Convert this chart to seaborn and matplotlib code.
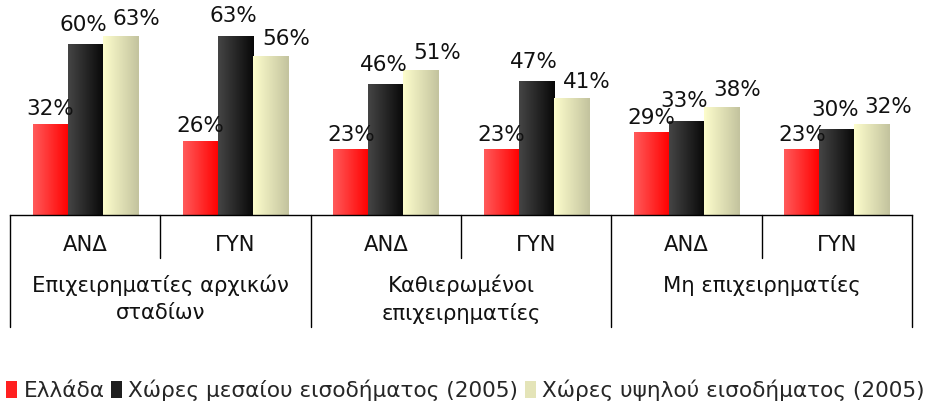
import numpy as np
import pandas as pd
import matplotlib
matplotlib.use("Agg")
import matplotlib.pyplot as plt
import seaborn as sns
from matplotlib.colors import LinearSegmentedColormap
from matplotlib.patches import Patch

# data
groups = ["Επιχειρηματίες αρχικών\nσταδίων", "Καθιερωμένοι\nεπιχειρηματίες", "Μη επιχειρηματίες"]
genders = ["ΑΝΔ", "ΓΥΝ"]
series = ["Ελλάδα", "Χώρες μεσαίου εισοδήματος (2005)", "Χώρες υψηλού εισοδήματος (2005)"]
greece = [32, 26, 23, 23, 29, 23]
middle_income = [60, 63, 46, 47, 33, 30]
high_income = [63, 56, 51, 41, 38, 32]

# slot labels: one per (group, gender)
slots = [f"{g}|{s}" for g in range(len(groups)) for s in genders]

rows = []
for name, vals in zip(series, [greece, middle_income, high_income]):
    for slot, v in zip(slots, vals):
        rows.append({"slot": slot, "series": name, "value": v})
df = pd.DataFrame(rows)

# left -> right colour of each gradient bar
grad_colours = [("#ff5a5a", "#ff0000"), ("#454545", "#080808"), ("#fdfdcc", "#c3c39e")]
legend_colours = ["#ff2020", "#1e1e1e", "#e4e4b8"]
label_dx = [0, -2, 16]   # label nudges, px
label_dy = [5, 10, 7]

sns.set_style("white")
plt.rcParams["font.family"] = ["DejaVu Sans"]

fig = plt.figure(figsize=(9.31, 4.03), dpi=100)
ax = fig.add_axes([10 / 931, 1 - 215 / 403, 902 / 931, 215 / 403])

sns.barplot(data=df, x="slot", y="value", hue="series", order=slots,
            hue_order=series, width=0.7, palette=legend_colours,
            saturation=1, ax=ax, legend=False)

ax.set_xlim(-0.5, len(slots) - 0.5)
ax.set_ylim(0, 215 / 2.835)
ax.set_autoscale_on(False)

# gradient fill over each bar + value label
for i, cont in enumerate(ax.containers):
    cmap = LinearSegmentedColormap.from_list(f"g{i}", grad_colours[i])
    grad = np.linspace(0, 1, 64).reshape(1, -1)
    for bar in cont:
        x0, w, h = bar.get_x(), bar.get_width(), bar.get_height()
        ax.imshow(grad, cmap=cmap, extent=[x0, x0 + w, 0, h], aspect="auto",
                  zorder=bar.get_zorder() + 0.1, interpolation="bilinear")
        ax.annotate(f"{h:.0f}%", (x0 + w / 2, h), xytext=(label_dx[i] * 0.72, label_dy[i] * 0.72),
                    textcoords="offset points", ha="center", va="bottom",
                    fontsize=15.5, color="#111111")

ax.set_xlabel("")
ax.set_ylabel("")
ax.set_xticks([])
ax.set_yticks([])
ax.spines[["top", "right", "left"]].set_visible(False)
ax.spines["bottom"].set_color("black")
ax.spines["bottom"].set_linewidth(1.0)

# table-style category axis underneath
trans = ax.get_xaxis_transform()
short_y = -43 / 215
long_y = -112 / 215
for k in range(len(slots) + 1):
    x = k - 0.5
    y_end = long_y if k % 2 == 0 else short_y
    ax.plot([x, x], [0, y_end], transform=trans, color="black", lw=1.0, clip_on=False)

for k, slot in enumerate(slots):
    ax.text(k, -30 / 215, slot.split("|")[1], transform=trans, ha="center",
            va="center", fontsize=15.2, color="#111111")

for g, name in enumerate(groups):
    ax.text(2 * g + 0.5, -60 / 215, name, transform=trans, ha="center", va="top",
            fontsize=15.2, color="#111111", linespacing=1.4)

handles = [Patch(facecolor=c, edgecolor="none") for c in legend_colours]
fig.legend(handles, series, loc="center", bbox_to_anchor=(0.5, 1 - 390 / 403), ncol=3,
           frameon=False, fontsize=15.6, handlelength=0.5, handleheight=0.8,
           handletextpad=0.3, columnspacing=0.3, borderaxespad=0)

fig.savefig("out.png", dpi=100)
